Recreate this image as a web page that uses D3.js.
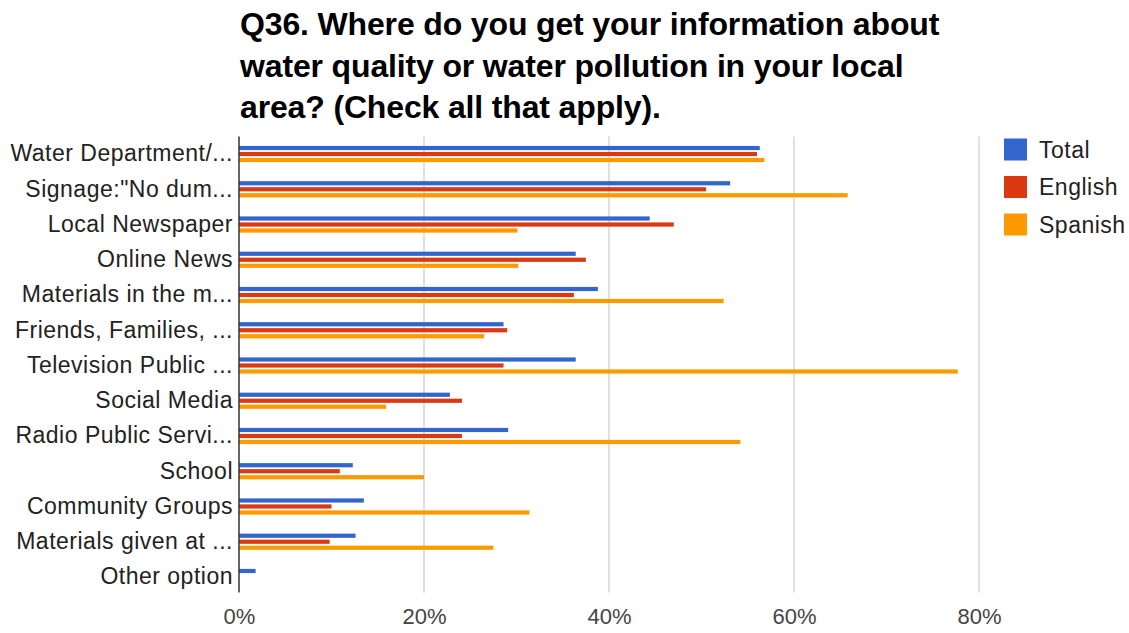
<!DOCTYPE html>
<html>
<head>
<meta charset="utf-8">
<script src="https://cdn.jsdelivr.net/npm/d3@7"></script>
<style>
  html, body { margin: 0; padding: 0; background: #fff; }
  svg { display: block; font-family: "Liberation Sans", Arial, Helvetica, sans-serif; }
</style>
</head>
<body>
<svg id="chart" width="1129" height="633"></svg>
<script>
// Survey responses, percent of respondents (check all that apply)
const categories = [
  "Water Department/...",
  "Signage:\"No dum...",
  "Local Newspaper",
  "Online News",
  "Materials in the m...",
  "Friends, Families, ...",
  "Television Public ...",
  "Social Media",
  "Radio Public Servi...",
  "School",
  "Community Groups",
  "Materials given at ...",
  "Other option"
];
const seriesNames = ["Total", "English", "Spanish"];
const totalValues   = [56.3, 53.1, 44.4, 36.4, 38.8, 28.6, 36.4, 22.8, 29.1, 12.3, 13.5, 12.6, 1.8];
const englishValues = [56.0, 50.5, 47.0, 37.5, 36.2, 29.0, 28.6, 24.1, 24.1, 10.9, 10.0, 9.8, 0];
const spanishValues = [56.8, 65.8, 30.1, 30.2, 52.4, 26.5, 77.7, 15.9, 54.2, 20.0, 31.4, 27.5, 0];
const tickValues = [0, 20, 40, 60, 80];
const titleLines = [
  "Q36. Where do you get your information about",
  "water quality or water pollution in your local",
  "area? (Check all that apply)."
];

const colors = ["#3366cc", "#dc3912", "#ff9900"];
const seriesValues = [totalValues, englishValues, spanishValues];

const svg = d3.select("#chart");

const plot = { left: 239, right: 979, top: 136.4, bottom: 594.6 };

const x = d3.scaleLinear().domain([0, 80]).range([plot.left, plot.right]);
const y = d3.scaleBand().domain(categories)
  .range([plot.top, plot.bottom]).paddingInner(0.54).paddingOuter(0.27);
const ySub = d3.scaleBand().domain(seriesNames)
  .range([0, y.bandwidth()]).paddingInner(0.3).paddingOuter(0);
const color = d3.scaleOrdinal().domain(seriesNames).range(colors);

// Title
svg.append("g").selectAll("text")
  .data(titleLines)
  .join("text")
  .attr("x", plot.left + 1)
  .attr("y", (d, i) => 35 + i * 41.5)
  .attr("font-size", 32)
  .attr("font-weight", "bold")
  .attr("letter-spacing", "-0.15")
  .attr("fill", "#000")
  .text(d => d);

// Vertical gridlines
svg.append("g")
  .selectAll("line")
  .data(tickValues.filter(v => v > 0))
  .join("line")
  .attr("x1", d => x(d)).attr("x2", d => x(d))
  .attr("y1", plot.top).attr("y2", plot.bottom - 2)
  .attr("stroke", "#cccccc").attr("stroke-width", 1.2);

// Bars
const rows = categories.map((c, i) => ({
  category: c,
  values: seriesNames.map((s, j) => ({ series: s, value: seriesValues[j][i] }))
}));

const groups = svg.append("g").selectAll("g")
  .data(rows)
  .join("g")
  .attr("transform", d => `translate(0,${y(d.category)})`);

groups.selectAll("rect")
  .data(d => d.values)
  .join("rect")
  .attr("x", x(0))
  .attr("y", d => ySub(d.series))
  .attr("width", d => x(d.value) - x(0))
  .attr("height", ySub.bandwidth())
  .attr("fill", d => color(d.series));

// Category axis
const yAxis = svg.append("g")
  .attr("transform", `translate(${plot.left},0)`)
  .call(d3.axisLeft(y).tickSize(0).tickPadding(6));
yAxis.select(".domain").remove();
yAxis.selectAll("text")
  .attr("font-size", 23)
  .attr("letter-spacing", "0.5")
  .attr("font-family", "Liberation Sans, Arial, sans-serif")
  .attr("fill", "#222");

svg.append("line")
  .attr("x1", plot.left).attr("x2", plot.left)
  .attr("y1", plot.top).attr("y2", plot.bottom - 2)
  .attr("stroke", "#333").attr("stroke-width", 1.5);

// Value axis labels
const xAxis = svg.append("g")
  .attr("transform", `translate(0,${plot.bottom})`)
  .call(d3.axisBottom(x).tickValues(tickValues).tickSize(0).tickPadding(14)
    .tickFormat(d => d + "%"));
xAxis.select(".domain").remove();
xAxis.selectAll("text")
  .attr("font-size", 22)
  .attr("font-family", "Liberation Sans, Arial, sans-serif")
  .attr("fill", "#444");

// Legend
const legend = svg.append("g").selectAll("g")
  .data(seriesNames)
  .join("g")
  .attr("transform", (d, i) => `translate(1004,${138.5 + i * 37.5})`);
legend.append("rect")
  .attr("width", 23).attr("height", 22)
  .attr("fill", d => color(d));
legend.append("text")
  .attr("x", 35).attr("y", 11)
  .attr("dy", "0.36em")
  .attr("font-size", 23)
  .attr("letter-spacing", "0.5")
  .attr("fill", "#222")
  .text(d => d);
</script>
</body>
</html>
